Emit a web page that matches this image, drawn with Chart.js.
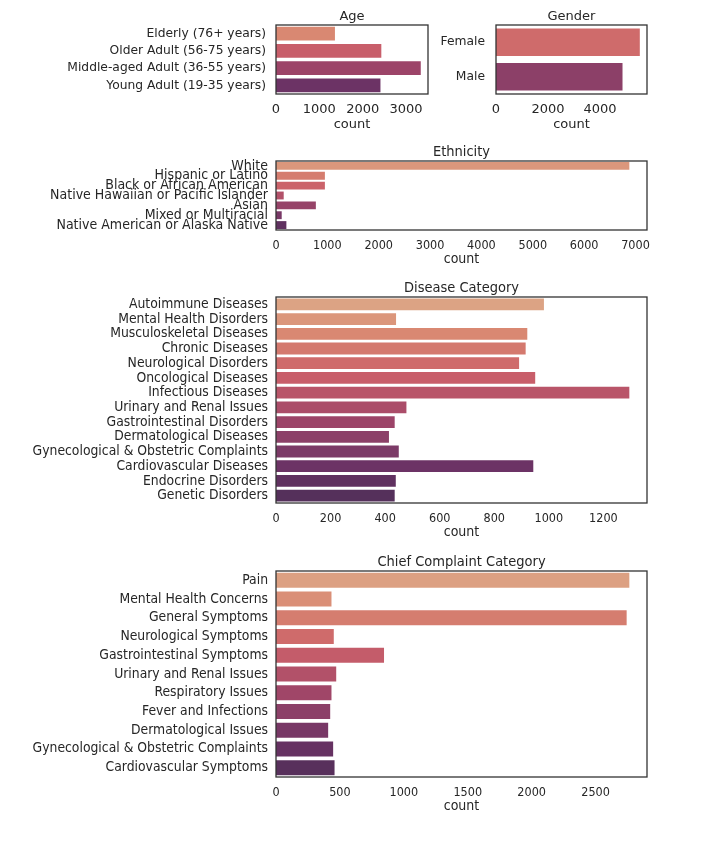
<!DOCTYPE html>
<html>
<head>
<meta charset="utf-8">
<script src="https://cdn.jsdelivr.net/npm/chart.js@4.4.1/dist/chart.umd.min.js"></script>
<style>
  body { margin: 0; background: #fff; }
  #wrap { position: relative; width: 718px; height: 845px; }
  .panel { position: absolute; }
</style>
</head>
<body>
<div id="wrap">
  <div class="panel" style="left:0;top:0;width:440px;height:134px"><canvas id="age"></canvas></div>
  <div class="panel" style="left:440px;top:0;width:278px;height:134px"><canvas id="gender"></canvas></div>
  <div class="panel" style="left:0;top:136px;width:718px;height:134px"><canvas id="ethnicity"></canvas></div>
  <div class="panel" style="left:0;top:272px;width:718px;height:271px"><canvas id="disease"></canvas></div>
  <div class="panel" style="left:0;top:546px;width:718px;height:271px"><canvas id="complaint"></canvas></div>
</div>
<script>
// data
const ageLabels = ["Elderly (76+ years)", "Older Adult (56-75 years)", "Middle-aged Adult (36-55 years)", "Young Adult (19-35 years)"];
const ageCounts = [1360, 2430, 3340, 2410];
const ageTicks = [0, 1000, 2000, 3000];

const genderLabels = ["Female", "Male"];
const genderCounts = [5530, 4865];
const genderTicks = [0, 2000, 4000];

const ethnicityLabels = ["White", "Hispanic or Latino", "Black or African American", "Native Hawaiian or Pacific Islander", "Asian", "Mixed or Multiracial", "Native American or Alaska Native"];
const ethnicityCounts = [6880, 952, 952, 150, 776, 111, 202];
const ethnicityTicks = [0, 1000, 2000, 3000, 4000, 5000, 6000, 7000];

const diseaseLabels = ["Autoimmune Diseases", "Mental Health Disorders", "Musculoskeletal Diseases", "Chronic Diseases", "Neurological Disorders", "Oncological Diseases", "Infectious Diseases", "Urinary and Renal Issues", "Gastrointestinal Disorders", "Dermatological Diseases", "Gynecological & Obstetric Complaints", "Cardiovascular Diseases", "Endocrine Disorders", "Genetic Disorders"];
const diseaseCounts = [982, 440, 921, 915, 891, 950, 1295, 478, 435, 414, 450, 943, 439, 435];
const diseaseTicks = [0, 200, 400, 600, 800, 1000, 1200];

const complaintLabels = ["Pain", "Mental Health Concerns", "General Symptoms", "Neurological Symptoms", "Gastrointestinal Symptoms", "Urinary and Renal Issues", "Respiratory Issues", "Fever and Infections", "Dermatological Issues", "Gynecological & Obstetric Complaints", "Cardiovascular Symptoms"];
const complaintCounts = [2764, 434, 2743, 452, 845, 471, 434, 424, 408, 447, 458];
const complaintTicks = [0, 500, 1000, 1500, 2000, 2500];

// muted "flare" palette, light orange -> dark purple
const flareStops = [
  [0.0, [224, 176, 142]], [0.067, [220, 163, 132]], [0.2, [217, 136, 114]],
  [0.333, [207, 107, 107]], [0.4, [200, 94, 106]], [0.6, [156, 68, 104]],
  [0.667, [140, 64, 104]], [0.8, [108, 51, 101]], [0.933, [85, 48, 91]], [1.0, [75, 44, 85]]
];
function flare(n) {
  const out = [];
  for (let i = 0; i < n; i++) {
    const t = (i + 1) / (n + 1);
    let k = 0;
    while (k < flareStops.length - 2 && flareStops[k + 1][0] < t) k++;
    const [t0, c0] = flareStops[k], [t1, c1] = flareStops[k + 1];
    const f = (t - t0) / (t1 - t0);
    const c = c0.map((v, j) => Math.round(v + (c1[j] - v) * f));
    out.push(`rgb(${c[0]},${c[1]},${c[2]})`);
  }
  return out;
}

const TEXT = "#262626";
const REG = "'DejaVu Sans', sans-serif";
const COND = "'DejaVu Sans Condensed', 'Liberation Sans Narrow', 'DejaVu Sans', sans-serif";

// box around the axes + title centred over the plot area
const framePlugin = {
  id: "frame",
  afterDraw(chart, args, o) {
    const { ctx, chartArea: a } = chart;
    ctx.save();
    ctx.strokeStyle = "#333";
    ctx.lineWidth = 1.3;
    ctx.strokeRect(a.left, a.top, a.right - a.left, a.bottom - a.top);
    ctx.fillStyle = TEXT;
    ctx.font = `${o.size}px ${o.family}`;
    ctx.textAlign = "center";
    ctx.textBaseline = "alphabetic";
    ctx.fillText(o.text, (a.left + a.right) / 2, a.top - 5);
    ctx.restore();
  }
};

function countPlot(id, title, labels, counts, ticks, cfg) {
  new Chart(document.getElementById(id), {
    type: "bar",
    data: {
      labels: labels,
      datasets: [{
        data: counts,
        backgroundColor: flare(labels.length),
        categoryPercentage: 0.8,
        barPercentage: 1.0,
      }],
    },
    options: {
      indexAxis: "y",
      responsive: true,
      maintainAspectRatio: false,
      animation: false,
      layout: { padding: { top: cfg.top, right: cfg.right, bottom: 0, left: 0 } },
      plugins: {
        legend: { display: false },
        tooltip: { enabled: false },
        frame: { text: title, size: cfg.title, family: cfg.family },
      },
      scales: {
        x: {
          min: 0,
          max: Math.max(...counts) * 1.05,
          grid: { display: false, drawTicks: false },
          border: { display: false },
          ticks: {
            autoSkip: false, maxRotation: 0, padding: 8, color: TEXT,
            font: { family: cfg.family, size: cfg.xtick },
            callback: (v) => String(v),
          },
          afterBuildTicks: (s) => { s.ticks = ticks.map((v) => ({ value: v })); },
          afterFit: (s) => { s.height = 40; },
          title: { display: true, text: "count", color: TEXT, padding: { top: 0, bottom: 2 }, font: { family: cfg.family, size: cfg.count } },
        },
        y: {
          grid: { display: false, drawTicks: false },
          border: { display: false },
          ticks: { autoSkip: false, padding: cfg.pad, color: TEXT, font: { family: cfg.family, size: cfg.ytick, lineHeight: 1 } },
          afterFit: (s) => { s.width = cfg.yw; },
        },
      },
    },
    plugins: [framePlugin],
  });
}

window.onload = function() {
  countPlot("age", "Age", ageLabels, ageCounts, ageTicks,
    { top: 25, right: 12, yw: 276, pad: 10, family: REG, ytick: 12.3, xtick: 13, count: 13, title: 13 });
  countPlot("gender", "Gender", genderLabels, genderCounts, genderTicks,
    { top: 25, right: 71, yw: 56, pad: 11, family: REG, ytick: 12.3, xtick: 13, count: 13, title: 13 });
  countPlot("ethnicity", "Ethnicity", ethnicityLabels, ethnicityCounts, ethnicityTicks,
    { top: 25, right: 71, yw: 276, pad: 8, family: COND, ytick: 14, xtick: 12.5, count: 14, title: 14.5 });
  countPlot("disease", "Disease Category", diseaseLabels, diseaseCounts, diseaseTicks,
    { top: 25, right: 71, yw: 276, pad: 8, family: COND, ytick: 13.8, xtick: 12.5, count: 14, title: 14.5 });
  countPlot("complaint", "Chief Complaint Category", complaintLabels, complaintCounts, complaintTicks,
    { top: 25, right: 71, yw: 276, pad: 8, family: COND, ytick: 13.8, xtick: 12.5, count: 14, title: 14.5 });
};
</script>
</body>
</html>
